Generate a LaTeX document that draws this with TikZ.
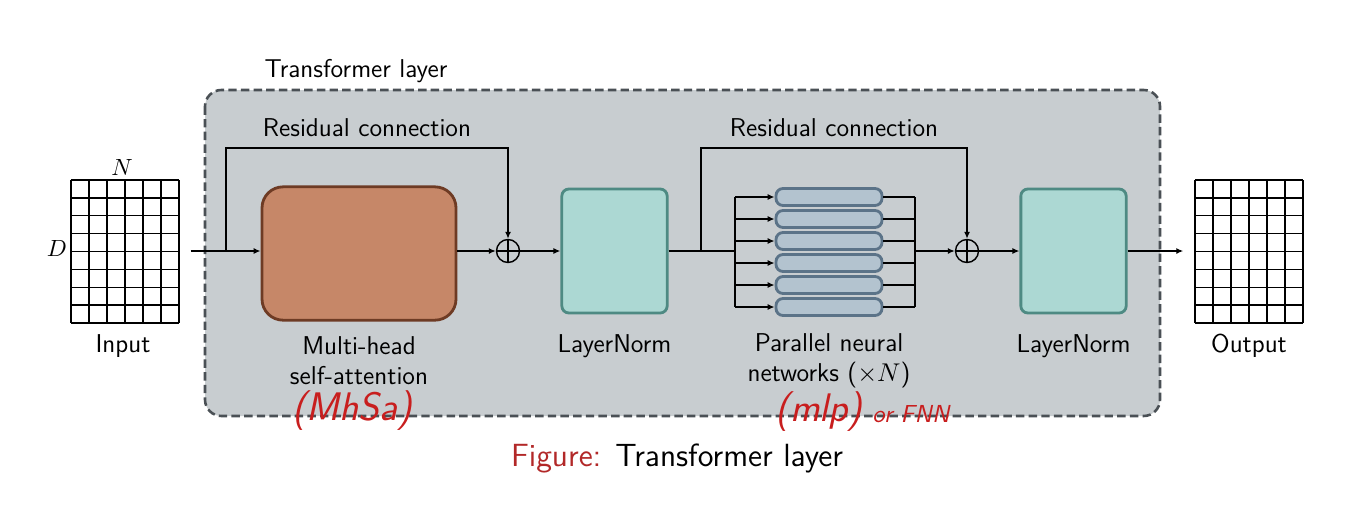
\documentclass[tikz,border=0pt]{standalone}
\usepackage{amsmath}
\usetikzlibrary{arrows.meta,calc}
\renewcommand{\familydefault}{\sfdefault}

\definecolor{layergray}{RGB}{200,205,208}
\definecolor{layerline}{RGB}{74,80,85}
\definecolor{attnfill}{RGB}{198,135,104}
\definecolor{attnline}{RGB}{110,59,36}
\definecolor{normfill}{RGB}{172,216,211}
\definecolor{normline}{RGB}{78,138,131}
\definecolor{mlpfill}{RGB}{179,195,207}
\definecolor{mlpline}{RGB}{91,115,136}
\definecolor{figred}{RGB}{178,40,40}
\definecolor{penred}{RGB}{200,30,30}

\tikzset{
  arr/.style={-{Latex[length=3pt,width=2.6pt]}, line width=0.6pt},
  wire/.style={line width=0.6pt},
  attnbox/.style={draw=attnline, fill=attnfill, line width=1.2pt, rounded corners=9pt,
    minimum width=2.91cm, minimum height=2cm},
  normbox/.style={draw=normline, fill=normfill, line width=1.2pt, rounded corners=3pt,
    minimum width=1.58cm, minimum height=1.86cm},
  mlpbox/.style={draw=mlpline, fill=mlpfill, line width=1.2pt, rounded corners=3pt,
    minimum width=1.59cm, minimum height=0.255cm, inner sep=0pt},
  addnode/.style={draw, circle, line width=0.6pt, minimum size=0.345cm, inner sep=0pt,
    path picture={\draw[line width=0.6pt] (path picture bounding box.north) -- (path picture bounding box.south)
      (path picture bounding box.west) -- (path picture bounding box.east);}},
  gridbox/.style={minimum width=1.62cm, minimum height=2.145cm, inner sep=0pt, outer sep=0pt},
  lbl/.style={align=center, font=\fontsize{11}{12.8}\selectfont},
  hand/.style={text=penred, font=\fontsize{17}{18}\selectfont\itshape}
}

\begin{document}
\begin{tikzpicture}[x=0.015cm, y=-0.015cm]
    \useasboundingbox (0,0) rectangle (1366,506);

    % transformer layer frame
    \filldraw[fill=layergray, draw=layerline, line width=1.1pt, dash pattern=on 3.6pt off 1.8pt, rounded corners=7pt]
    (205,90) rectangle (1160,416);
    \node[lbl] (title) at (356,71) {Transformer layer};

    % input / output matrices
    \node[gridbox] (inp) at (125,251.5) {};
    \node[gridbox] (out) at (1249,251.5) {};
    \foreach \g in {inp,out} {
        \foreach \i in {0,...,6}
            \draw[line width=0.6pt] ($(\g.north west)!\i/6!(\g.north east)$) -- ($(\g.south west)!\i/6!(\g.south east)$);
        \foreach \j in {0,...,8}
            \draw[line width=0.6pt] ($(\g.north west)!\j/8!(\g.south west)$) -- ($(\g.north east)!\j/8!(\g.south east)$);
    }
    \node (dimn) at (122,167) {$N$};
    \node (dimd) at (57,248) {$D$};
    \node[lbl] (inlabel) at (123,346) {Input};
    \node[lbl] (outlabel) at (1249,346) {Output};

    % blocks
    \node[attnbox] (mhsa) at (359,253.5) {};
    \node[addnode] (add1) at (508,251) {};
    \node[normbox] (ln1) at (614.5,251) {};
    \node[addnode] (add2) at (967,251) {};
    \node[normbox] (ln2) at (1073.5,251) {};
    \foreach \k/\y in {1/197,2/219,3/241,4/263,5/285,6/307}
        \node[mlpbox] (mlp\k) at (829,\y) {};

    \node[lbl] at (359,361) {Multi-head\\self-attention};
    \node[lbl] at (614.5,346) {LayerNorm};
    \node[lbl] at (829,361) {Parallel neural\\networks ($\times N$)};
    \node[lbl] at (1073.5,346) {LayerNorm};
    \node[lbl] at (367,128) {Residual connection};
    \node[lbl] at (834,128) {Residual connection};

    % main path
    \coordinate (br1) at (226,251);
    \coordinate (top1) at (226,148);
    \coordinate (br2) at (701,251);
    \coordinate (top2) at (701,148);
    \coordinate (split) at (735,251);
    \coordinate (merge) at (915,251);

    \draw[arr, shorten <=5pt] (inp.east |- br1) -- (mhsa.west |- br1);
    \draw[arr] (mhsa.east |- add1) -- (add1);
    \draw[arr] (add1) -- (ln1);
    \draw[wire] (ln1) -- (split);
    \draw[arr] (merge) -- (add2);
    \draw[arr] (add2) -- (ln2);
    \draw[arr, shorten >=5pt] (ln2.east) -- (out.west |- ln2);

    % residual connections
    \draw[arr] (br1) -- (top1) -| (add1.north);
    \draw[arr] (br2) -- (top2) -| (add2.north);

    % parallel networks
    \draw[wire] (split |- mlp1) -- (split |- mlp6);
    \draw[wire] (merge |- mlp1) -- (merge |- mlp6);
    \foreach \k in {1,...,6} {
        \draw[arr] (split |- mlp\k) -- (mlp\k.west);
        \draw[wire] (mlp\k.east) -- (merge |- mlp\k);
    }

    % notes
    \node[hand] (note1) at (352,411) {(MhSa)};
    \node[hand] (note2) at (819,412) {(mlp)};
    \node[text=penred, font=\fontsize{10.5}{12}\selectfont\itshape] (note3) at (911,414) {or FNN};

    \node[font=\fontsize{13.7}{15}\selectfont] (caption) at (677,458) {\textcolor{figred}{Figure:} Transformer layer};

\end{tikzpicture}
\end{document}
